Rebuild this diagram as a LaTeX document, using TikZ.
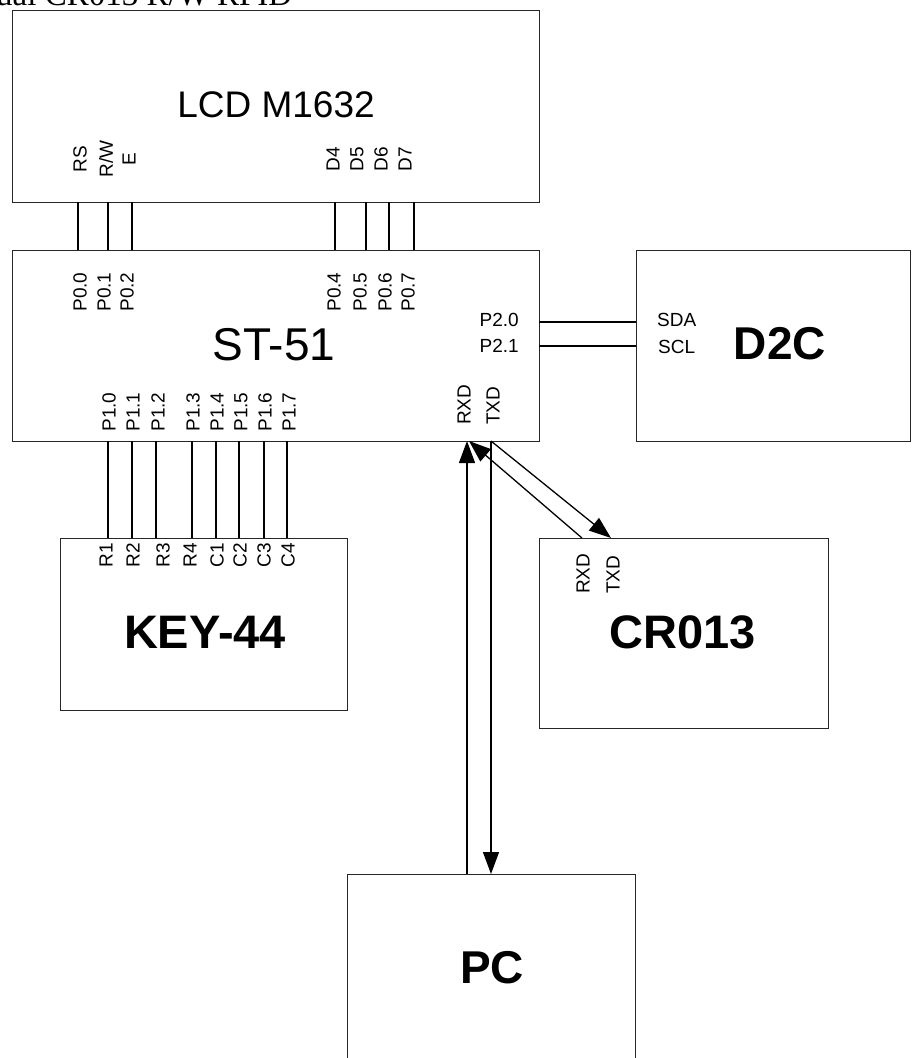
\documentclass[tikz,border=0pt]{standalone}
\usepackage{fontspec}
\setmainfont{Liberation Sans}
\newfontfamily\seriffam{Liberation Serif}
\usetikzlibrary{arrows.meta}
\begin{document}
\begin{tikzpicture}[x=1pt,y=-1pt,
  box/.style={draw=black!85, line width=0.9pt, inner sep=0pt, outer sep=0pt, anchor=north west},
  wire/.style={draw=black, line width=1.3pt},
  arr/.style={wire, -{Triangle[length=22pt,width=16pt]}},
  pin/.style={font=\fontsize{19}{19}\selectfont, inner sep=0pt, rotate=90},
  pinb/.style={pin, anchor=west},
  hpin/.style={font=\fontsize{19}{19}\selectfont, inner sep=0pt},
  title/.style={font=\fontsize{37}{37}\selectfont, inner sep=0pt},
  btitle/.style={font=\fontsize{47}{47}\selectfont\bfseries, inner sep=0pt}]
\useasboundingbox (0,0) rectangle (911,1058);

% header text (cut off at the top)
\node[font=\seriffam\fontsize{33}{33}\selectfont, anchor=base west, inner sep=0pt] (hdr) at (-4,5) {ual CR013 R/W RFID};

% boxes
\node[box, minimum width=527pt, minimum height=192pt] (lcd) at (12,10) {};
\node[box, minimum width=527pt, minimum height=191pt] (st) at (12,250) {};
\node[box, minimum width=274pt, minimum height=191pt] (d2c) at (636,250) {};
\node[box, minimum width=287pt, minimum height=172pt] (key) at (60,538) {};
\node[box, minimum width=289pt, minimum height=190pt] (cr) at (539,538) {};
\node[box, minimum width=288pt, minimum height=200pt] (pc) at (347,874) {};

% titles
\node[title] (tlcd) at (276,105) {LCD M1632};
\node[title, font=\fontsize{46}{46}\selectfont] (tst) at (274,345) {ST-51};
\node[btitle, font=\fontsize{46}{46}\selectfont\bfseries] (td2c) at (780,344) {D2C};
\node[btitle] (tkey) at (205,632) {KEY-44};
\node[btitle] (tcr) at (683,632) {CR013};
\node[btitle, font=\fontsize{46}{46}\selectfont\bfseries] (tpc) at (492,968) {PC};

% LCD pin labels
\node[pin] (lrs) at (80,159) {RS};
\node[pin] (lrw) at (106,159) {R/W};
\node[pin] (le) at (129,159) {E};
\node[pin] (ld4) at (333,159) {D4};
\node[pin] (ld5) at (357,159) {D5};
\node[pin] (ld6) at (381,159) {D6};
\node[pin] (ld7) at (405,159) {D7};

% ST-51 port 0 labels
\node[pin] (p00) at (80,292) {P0.0};
\node[pin] (p01) at (104,292) {P0.1};
\node[pin] (p02) at (127,292) {P0.2};
\node[pin] (p04) at (334,292) {P0.4};
\node[pin] (p05) at (360,292) {P0.5};
\node[pin] (p06) at (385,292) {P0.6};
\node[pin] (p07) at (408,292) {P0.7};

% ST-51 port 1 labels
\node[pin] (p10) at (109,412) {P1.0};
\node[pin] (p11) at (133,412) {P1.1};
\node[pin] (p12) at (158,412) {P1.2};
\node[pin] (p13) at (193,412) {P1.3};
\node[pin] (p14) at (217,412) {P1.4};
\node[pin] (p15) at (241,412) {P1.5};
\node[pin] (p16) at (265,412) {P1.6};
\node[pin] (p17) at (289,412) {P1.7};

% ST-51 serial labels
\node[pinb] (srxd) at (464,425) {RXD};
\node[pinb] (stxd) at (493,425) {TXD};

% port 2 labels
\node[hpin, anchor=east] (p20) at (519,320) {P2.0};
\node[hpin, anchor=east] (p21) at (519,346) {P2.1};
\node[hpin, anchor=west] (sda) at (657,320) {SDA};
\node[hpin, anchor=west] (scl) at (658,347) {SCL};

% KEY labels
\node[pin] (r1) at (106,555) {R1};
\node[pin] (r2) at (133,555) {R2};
\node[pin] (r3) at (163,555) {R3};
\node[pin] (r4) at (190,555) {R4};
\node[pin] (c1) at (217,555) {C1};
\node[pin] (c2) at (240,555) {C2};
\node[pin] (c3) at (264,555) {C3};
\node[pin] (c4) at (288,555) {C4};

% CR013 labels
\node[pinb] (crxd) at (583,594) {RXD};
\node[pinb] (ctxd) at (613,594) {TXD};

% LCD - ST wires
\foreach \x in {78,108,132,335,366,389,414}
  \draw[wire] (\x,0 |- lcd.south) -- (\x,0 |- st.north);
% ST - KEY wires
\foreach \x in {108,132,156,192,216,239,264,287}
  \draw[wire] (\x,0 |- st.south) -- (\x,0 |- key.north);
% ST - D2C wires
\foreach \y in {322,346}
  \draw[wire] (st.east |- 0,\y) -- (d2c.west |- 0,\y);

% serial arrows
\draw[arr] (467,0 |- pc.north) -- (467,0 |- st.south);
\draw[arr] (491,0 |- st.south) -- (491,0 |- pc.north);
\draw[arr] (582,0 |- cr.north) -- (469,0 |- st.south);
\draw[arr] (491,0 |- st.south) -- (611,0 |- cr.north);
\end{tikzpicture}
\end{document}
